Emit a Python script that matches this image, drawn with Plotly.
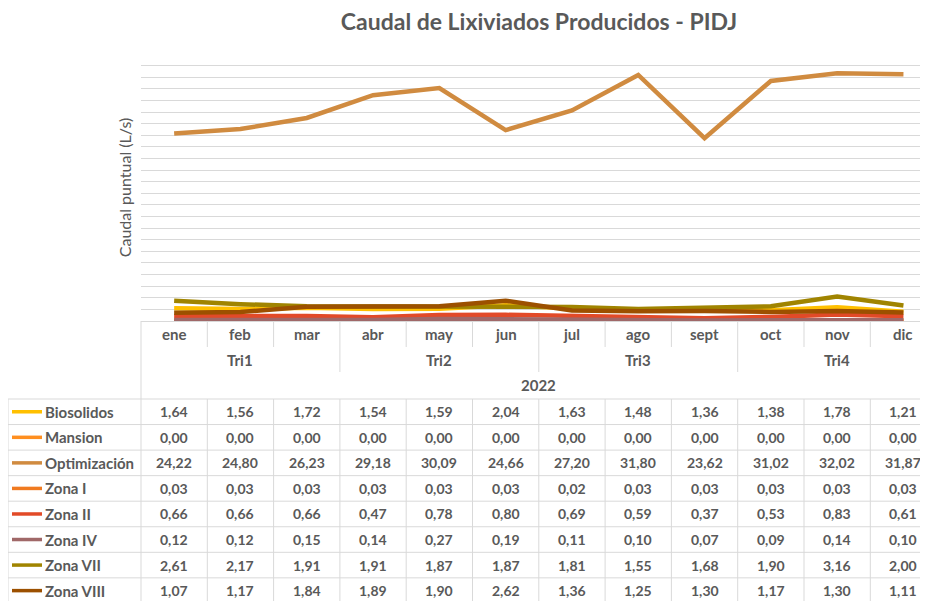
import plotly.graph_objects as go

# chart data
months = ["ene", "feb", "mar", "abr", "may", "jun", "jul", "ago", "sept", "oct", "nov", "dic"]
quarters = ["Tri1", "Tri2", "Tri3", "Tri4"]
year = "2022"

series_names = ["Biosolidos", "Mansion", "Optimización", "Zona I", "Zona II", "Zona IV", "Zona VII", "Zona VIII"]
biosolidos = [1.64, 1.56, 1.72, 1.54, 1.59, 2.04, 1.63, 1.48, 1.36, 1.38, 1.78, 1.21]
mansion = [0.00] * 12
optimizacion = [24.22, 24.80, 26.23, 29.18, 30.09, 24.66, 27.20, 31.80, 23.62, 31.02, 32.02, 31.87]
zona_1 = [0.03, 0.03, 0.03, 0.03, 0.03, 0.03, 0.02, 0.03, 0.03, 0.03, 0.03, 0.03]
zona_2 = [0.66, 0.66, 0.66, 0.47, 0.78, 0.80, 0.69, 0.59, 0.37, 0.53, 0.83, 0.61]
zona_4 = [0.12, 0.12, 0.15, 0.14, 0.27, 0.19, 0.11, 0.10, 0.07, 0.09, 0.14, 0.10]
zona_7 = [2.61, 2.17, 1.91, 1.91, 1.87, 1.87, 1.81, 1.55, 1.68, 1.90, 3.16, 2.00]
zona_8 = [1.07, 1.17, 1.84, 1.89, 1.90, 2.62, 1.36, 1.25, 1.30, 1.17, 1.30, 1.11]
all_values = [biosolidos, mansion, optimizacion, zona_1, zona_2, zona_4, zona_7, zona_8]

colors = ["#FFC000", "#FF8F1F", "#D08B40", "#F07A20", "#E24A28", "#A06868", "#A08400", "#9C5000"]

# page body has an 8px margin, so the figure is drawn 8px in from the window corner
OFF = 8
W, H = 928 - OFF, 601 - OFF
L, T, B = 141, 54, 321          # plot area edges, in window pixels
grid_col = "#D9D9D9"
txt_col = "#595959"
font = "Lato"

def py(ypx):
    return (B - ypx) / (B - T)

def px(xpx):
    return (xpx - L) / (W + OFF - L)

fig = go.Figure()
x_idx = list(range(len(months)))
for name, vals, col in zip(series_names, all_values, colors):
    fig.add_trace(go.Scatter(x=x_idx, y=vals, name=name, mode="lines",
                             line=dict(color=col, width=4.5), showlegend=False))

shapes = []
annotations = []

def hline(y, x0, x1, xref="paper"):
    shapes.append(dict(type="line", xref=xref, yref="paper", x0=x0, x1=x1, y0=py(y), y1=py(y),
                       line=dict(color=grid_col, width=1)))

def vline(x, y0, y1, xref="x"):
    shapes.append(dict(type="line", xref=xref, yref="paper", x0=x, x1=x, y0=py(y0), y1=py(y1),
                       line=dict(color=grid_col, width=1)))

def label(text, x, y, xref="x", size=15, bold=True, xanchor="center"):
    annotations.append(dict(text=f"<b>{text}</b>" if bold else text, x=x, y=py(y), xref=xref, yref="paper",
                            showarrow=False, xanchor=xanchor, yanchor="middle",
                            font=dict(family=font, size=size, color=txt_col)))

# category header (months / quarters / year)
vline(px(L), B, 610, xref="paper")
for i, m in enumerate(months):
    label(m, i, 334)
    if i < len(months) - 1:
        if (i + 1) % 3 == 0:
            vline(i + 0.5, B, 372)
        else:
            vline(i + 0.5, B, 347)
for q, qn in enumerate(quarters):
    label(qn, q * 3 + 1, 360)
label(year, (len(months) - 1) / 2, 385)

# data table
row_top = 399
row_h = 25.55
vline(px(8), row_top, 610, xref="paper")
for i in range(len(months) - 1):
    vline(i + 0.5, row_top, 610)
for r in range(len(series_names) + 1):
    hline(row_top + r * row_h, px(8), 1.02)
for r, (name, vals, col) in enumerate(zip(series_names, all_values, colors)):
    yc = row_top + r * row_h + row_h / 2
    shapes.append(dict(type="line", xref="paper", yref="paper", x0=px(12), x1=px(42), y0=py(yc), y1=py(yc),
                       line=dict(color=col, width=3.5)))
    label(name, px(43), yc, xref="paper", xanchor="left")
    for i, v in enumerate(vals):
        label(f"{v:.2f}".replace(".", ","), i, yc, size=14)

fig.update_layout(
    width=W, height=H,
    margin=dict(l=L - OFF, r=0, t=T - OFF, b=H + OFF - B, pad=0),
    paper_bgcolor="white", plot_bgcolor="white",
    title=dict(text="<b>Caudal de Lixiviados Producidos - PIDJ</b>", x=(539 - OFF) / W, xanchor="center",
               y=1 - (22 - OFF) / H, yanchor="middle", font=dict(family=font, size=23, color=txt_col)),
    xaxis=dict(range=[-0.5, -0.5 + (W + OFF - L) / 66.3], showticklabels=False, showgrid=False, zeroline=False,
               showline=True, linecolor=grid_col, linewidth=1, ticks=""),
    yaxis=dict(range=[0, 34.5], dtick=1.5, showticklabels=False, gridcolor=grid_col, gridwidth=1,
               zeroline=False, showline=False, ticks="",
               title=dict(text="Caudal puntual (L/s)", standoff=4,
                          font=dict(family=font, size=16, color=txt_col))),
    shapes=shapes, annotations=annotations,
)

fig.write_html("out.html")
